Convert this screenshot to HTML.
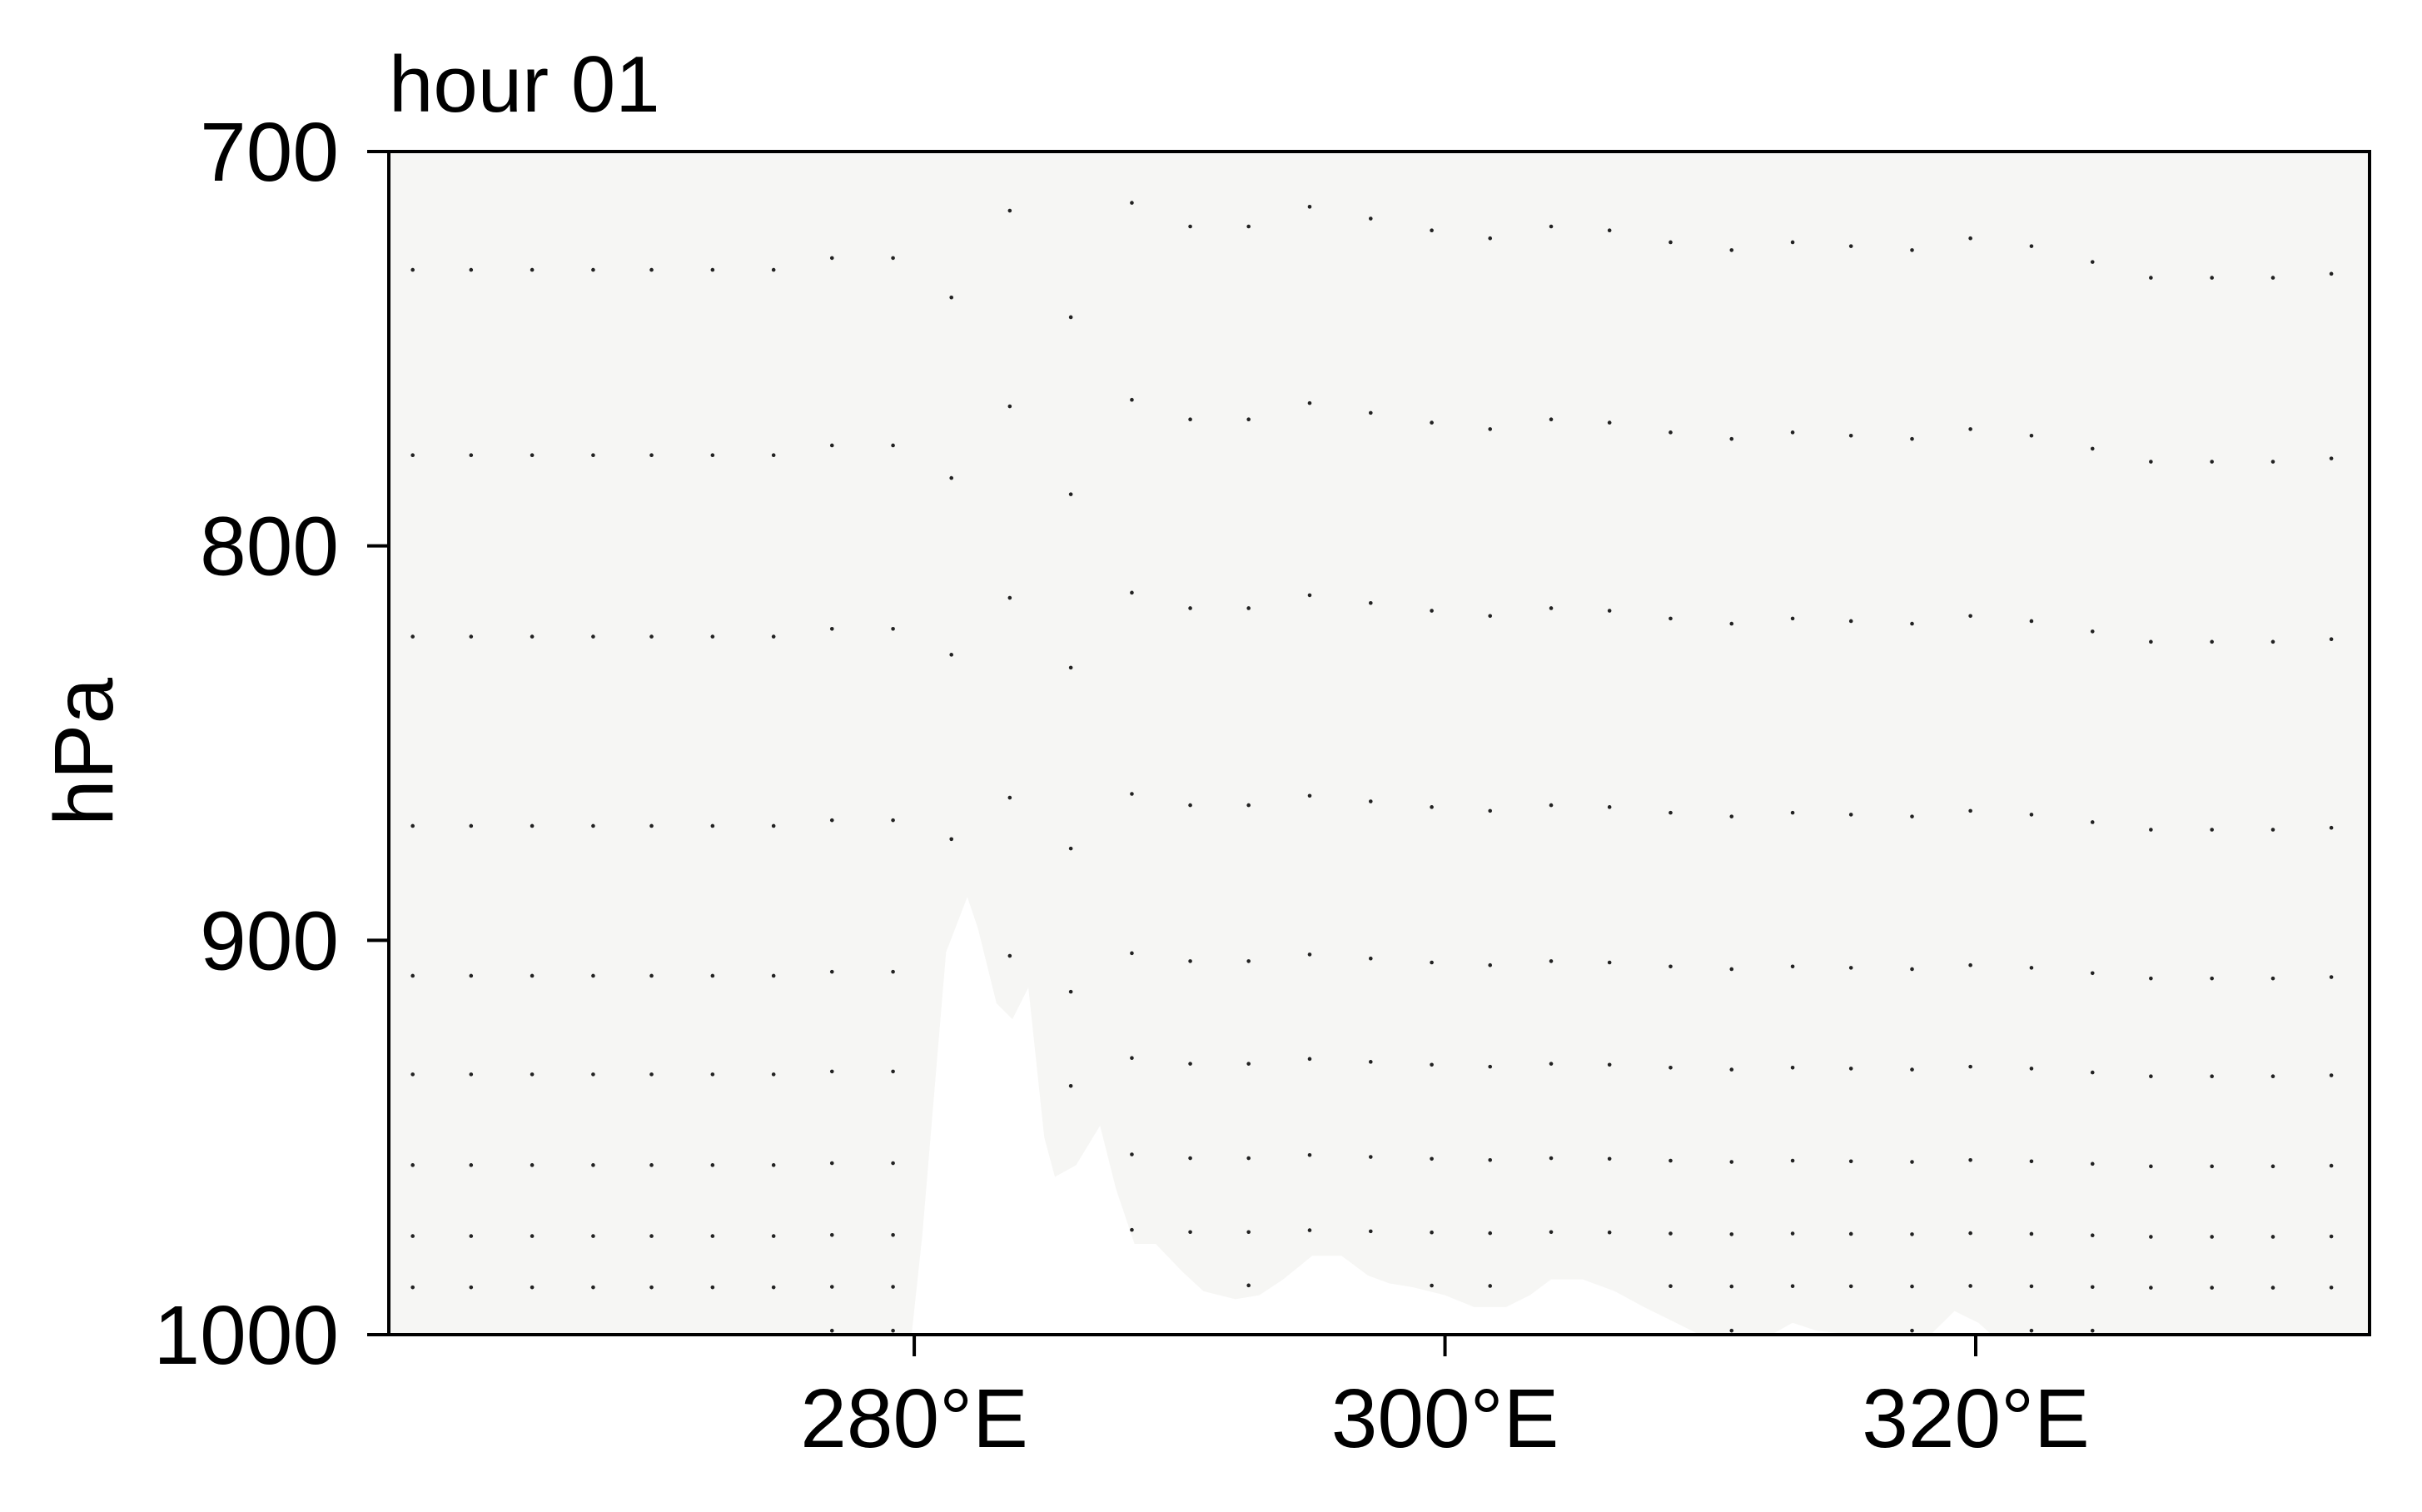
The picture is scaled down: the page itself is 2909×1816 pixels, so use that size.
<!DOCTYPE html>
<html><head><meta charset="utf-8"><style>
html,body{margin:0;padding:0;background:#fff;}
svg{display:block;font-family:"Liberation Sans",Arial,sans-serif;}
</style></head><body>
<svg id="chart" width="2909" height="1816" viewBox="0 0 2909 1816">
<rect x="467" y="182" width="2379" height="1421" fill="#f6f6f4"/>
<g id="terrain"></g>
<g id="dots"></g>
<g id="axes"></g>
<text x="467" y="134" font-size="96" fill="#000">hour 01</text>
<text transform="translate(135,903) rotate(-90)" text-anchor="middle" font-size="100" fill="#000">hPa</text>
</svg>
<script>
const xTicks=[280,300,320];
const xTickLabels=["280°E","300°E","320°E"];
const yTicks=[700,800,900,1000];
const yTickLabels=["700","800","900","1000"];
const terrainLon=[279.9,280.3,281.2,282.0,282.4,283.1,283.7,284.3,284.9,285.3,286.1,287.0,287.6,288.3,289.1,290.1,290.9,292.1,293.0,293.9,295.0,296.1,297.1,297.9,298.8,300.0,301.1,302.3,303.2,304.0,305.2,306.4,307.5,308.7,309.6,312.3,313.1,314.0,315.4,318.3,319.2,320.1,320.6];
const terrainP=[1000,975,903,889,897,916,920,912,950,960,957,947,963,977,977,984,989,991,990,986,980,980,985,987,988,990,993,993,990,986,986,989,993,997,1000,1000,997,999,1000,1000,994,997,1000];
const dotLon=[261.1,263.3,265.6,267.9,270.1,272.4,274.7,276.9,279.2,281.4,283.6,285.9,288.2,290.4,292.6,294.9,297.2,299.5,301.7,304.0,306.2,308.5,310.8,313.1,315.3,317.6,319.8,322.1,324.4,326.6,328.9,331.2,333.4];
const dotTopP=[730,730,730,730,730,730,730,727,727,737,715,742,713,719,719,714,717,720,722,719,720,723,725,723,724,725,722,724,728,732,732,732,731];
const dotLevels=[730,777,823,871,909,934,957,975,988,999];
const X0=467,X1=2846,Y0=182,Y1=1603,LON0=260.2,LON1=334.84,P0=700,P1=1000;
const xs=v=>X0+(v-LON0)/(LON1-LON0)*(X1-X0);
const ys=p=>Y0+(p-P0)/(P1-P0)*(Y1-Y0);
const NS="http://www.w3.org/2000/svg";
function mk(t,a){const e=document.createElementNS(NS,t);for(const k in a)e.setAttribute(k,a[k]);return e;}
function groundAt(lon){
  if(lon<=terrainLon[0]||lon>=terrainLon[terrainLon.length-1])return 1000;
  for(let i=0;i<terrainLon.length-1;i++){if(lon>=terrainLon[i]&&lon<=terrainLon[i+1]){const t=(lon-terrainLon[i])/(terrainLon[i+1]-terrainLon[i]);return terrainP[i]+t*(terrainP[i+1]-terrainP[i]);}}
  return 1000;
}
let d="M"+xs(terrainLon[0])+","+ys(1000);
terrainLon.forEach((l,i)=>{d+=" L"+xs(l)+","+ys(terrainP[i]);});
d+=" Z";
const tp=mk("path",{d:d,fill:"#ffffff"});


document.getElementById("terrain").appendChild(tp);
const dg=document.getElementById("dots");
dotLon.forEach((lon,i)=>{
  const shift=dotTopP[i]-dotLevels[0];
  dotLevels.forEach(lv=>{
    const p=lv+shift*(1000-lv)/(1000-dotLevels[0]);
    if(p>=groundAt(lon)-1)return;
    const c=mk("circle",{cx:xs(lon),cy:ys(p),r:2.3,fill:"#222"});
    
    
    dg.appendChild(c);
  });
});
const ag=document.getElementById("axes");
const fr=mk("rect",{x:X0,y:Y0,width:X1-X0,height:Y1-Y0,fill:"none",stroke:"#000","stroke-width":4});


ag.appendChild(fr);
xTicks.forEach((v,i)=>{
  const x=xs(v);
  const t=mk("line",{x1:x,x2:x,y1:Y1,y2:Y1+26,stroke:"#000","stroke-width":4});
  
  
  ag.appendChild(t);
  const tx=mk("text",{x:x,y:1738,"text-anchor":"middle","font-size":100,fill:"#000"});
  tx.textContent=xTickLabels[i];
  
  
  ag.appendChild(tx);
});
yTicks.forEach((v,i)=>{
  const y=ys(v);
  const t=mk("line",{x1:X0-26,x2:X0,y1:y,y2:y,stroke:"#000","stroke-width":4});
  
  
  ag.appendChild(t);
  const tx=mk("text",{x:X0-60,y:y+35,"text-anchor":"end","font-size":100,fill:"#000"});
  tx.textContent=yTickLabels[i];
  
  
  ag.appendChild(tx);
});
</script>
</body></html>
